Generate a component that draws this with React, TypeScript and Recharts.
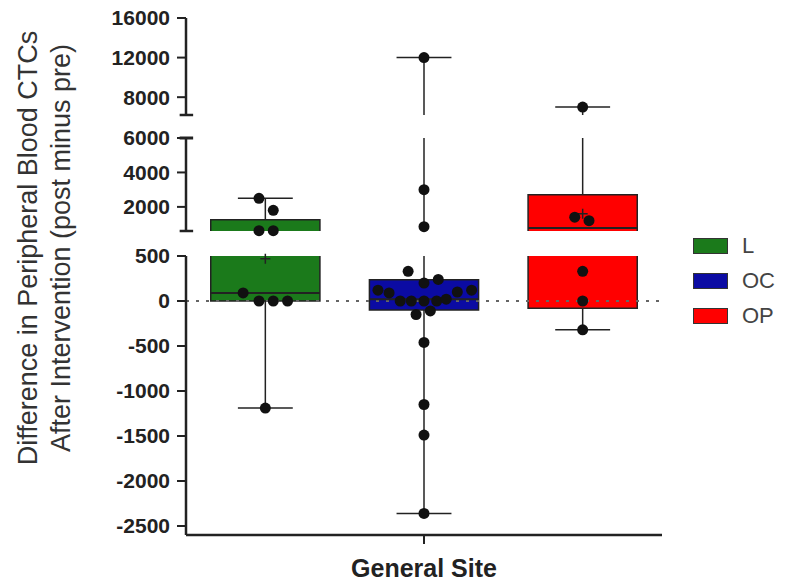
import { ComposedChart, XAxis, YAxis, Scatter, ReferenceArea, ReferenceLine } from "recharts";

const sites = ["L", "OC", "OP"];
const siteColors = ["#1b7a1b", "#0b0ba3", "#ff0000"];
const siteCenters = [0.5, 1.5, 2.5];

// box + whisker stats
const boxQ1 = [0, -100, -80];
const boxMedian = [90, 20, 780];
const boxQ3 = [1250, 235, 2700];
const whiskerLow = [-1190, -2360, -320];
const whiskerHigh = [2500, 12000, 7000];
const boxMean = [470, 540, 1600];

// individual patients (value + horizontal jitter around the site centre)
const lValues = [2500, 1800, 620, 620, 90, 0, 0, 0, -1190];
const lJitter = [-0.04, 0.05, -0.04, 0.05, -0.14, -0.04, 0.05, 0.14, 0];
const ocValues = [12000, 3000, 850, 330, 200, 240, 120, 90, 100, 120, 0, 0, 0, 0, 20, -150, -110, -460, -1150, -1490, -2360];
const ocJitter = [0, 0, 0, -0.1, 0, 0.09, -0.29, -0.22, 0.21, 0.3, -0.15, -0.08, 0, 0.08, 0.14, -0.05, 0.04, 0, 0, 0, 0];
const opValues = [7000, 1400, 1200, 330, 0, -320];
const opJitter = [0, -0.05, 0.04, 0, 0, 0];

// broken y axis: top, middle, bottom pieces
const segmentDomains = [[6200, 16000], [600, 6000], [-2600, 500]];
const segmentTicks = [
  [8000, 12000, 16000],
  [2000, 4000, 6000],
  [-2500, -2000, -1500, -1000, -500, 0, 500],
];

const xLabel = "General Site";
const yTitle = ["Difference in Peripheral Blood CTCs", "After Intervention (post minus pre)"];

const FONT = "'Liberation Sans', Arial, sans-serif";
const BOX_HALF = 0.344;
const CAP_HALF = 0.173;

const allValues = [lValues, ocValues, opValues];
const allJitter = [lJitter, ocJitter, opJitter];
const points = sites.flatMap((_, i) =>
  allValues[i].map((v, j) => ({ x: siteCenters[i] + allJitter[i][j], y: v }))
);
const means = sites.map((_, i) => ({ x: siteCenters[i], y: boxMean[i] }));

const dot = (p: any) => <circle cx={p.cx} cy={p.cy} r={5.5} fill="#111" />;
const plus = (p: any) => (
  <path d={`M${p.cx - 5},${p.cy}h10M${p.cx},${p.cy - 5}v10`} stroke="#222" strokeWidth={1.5} fill="none" />
);

interface SegProps {
  idx: number;
  top: number;
  height: number;
  mTop: number;
  mBottom: number;
  breakTop?: boolean;
  breakBottom?: boolean;
}

function Segment({ idx, top, height, mTop, mBottom, breakTop, breakBottom }: SegProps) {
  const [lo, hi] = segmentDomains[idx];
  const inRange = (p: { y: number }) => p.y >= lo && p.y <= hi;
  const showX = idx === 2;

  return (
    <div style={{ position: "absolute", left: 0, top }}>
      <ComposedChart width={786} height={height} margin={{ top: mTop, right: 124, bottom: mBottom, left: 106 }}>
        <XAxis
          type="number"
          dataKey="x"
          domain={[0, 3]}
          ticks={[1.5]}
          hide={!showX}
          height={50}
          tickFormatter={() => xLabel}
          tick={{ fontSize: 25, fontWeight: "bold", fill: "#222", fontFamily: FONT }}
          tickSize={9}
          tickMargin={15}
          axisLine={{ stroke: "#222", strokeWidth: 2.5 }}
          tickLine={{ stroke: "#222", strokeWidth: 2 }}
        />
        <YAxis
          type="number"
          dataKey="y"
          domain={[lo, hi]}
          ticks={segmentTicks[idx]}
          interval={0}
          width={80}
          tickSize={9}
          tickMargin={7}
          tick={{ fontSize: 21, fontWeight: "bold", fill: "#222", fontFamily: FONT }}
          axisLine={{ stroke: "#222", strokeWidth: 2.5 }}
          tickLine={{ stroke: "#222", strokeWidth: 2 }}
        />

        {showX && <ReferenceLine y={0} stroke="#666" strokeWidth={2} strokeDasharray="3 7" />}

        {sites.map((s, i) => (
          <ReferenceLine
            key={s + "-up"}
            segment={[{ x: siteCenters[i], y: boxQ3[i] }, { x: siteCenters[i], y: whiskerHigh[i] }]}
            stroke="#222"
            strokeWidth={1.5}
            ifOverflow="hidden"
          />
        ))}
        {sites.map((s, i) => (
          <ReferenceLine
            key={s + "-down"}
            segment={[{ x: siteCenters[i], y: boxQ1[i] }, { x: siteCenters[i], y: whiskerLow[i] }]}
            stroke="#222"
            strokeWidth={1.5}
            ifOverflow="hidden"
          />
        ))}
        {sites.map((s, i) => (
          <ReferenceLine
            key={s + "-capHi"}
            segment={[{ x: siteCenters[i] - CAP_HALF, y: whiskerHigh[i] }, { x: siteCenters[i] + CAP_HALF, y: whiskerHigh[i] }]}
            stroke="#222"
            strokeWidth={1.5}
            ifOverflow="hidden"
          />
        ))}
        {sites.map((s, i) => (
          <ReferenceLine
            key={s + "-capLo"}
            segment={[{ x: siteCenters[i] - CAP_HALF, y: whiskerLow[i] }, { x: siteCenters[i] + CAP_HALF, y: whiskerLow[i] }]}
            stroke="#222"
            strokeWidth={1.5}
            ifOverflow="hidden"
          />
        ))}

        {sites.map((s, i) => (
          <ReferenceArea
            key={s + "-box"}
            x1={siteCenters[i] - BOX_HALF}
            x2={siteCenters[i] + BOX_HALF}
            y1={boxQ1[i]}
            y2={boxQ3[i]}
            fill={siteColors[i]}
            fillOpacity={1}
            stroke="#222"
            strokeWidth={1.5}
            ifOverflow="hidden"
          />
        ))}
        {sites.map((s, i) => (
          <ReferenceLine
            key={s + "-med"}
            segment={[{ x: siteCenters[i] - BOX_HALF, y: boxMedian[i] }, { x: siteCenters[i] + BOX_HALF, y: boxMedian[i] }]}
            stroke="#222"
            strokeWidth={2}
            ifOverflow="hidden"
          />
        ))}

        {breakTop && (
          <ReferenceLine segment={[{ x: -0.04, y: hi }, { x: 0.045, y: hi }]} stroke="#222" strokeWidth={3} ifOverflow="visible" />
        )}
        {breakBottom && (
          <ReferenceLine segment={[{ x: -0.04, y: lo }, { x: 0.045, y: lo }]} stroke="#222" strokeWidth={2.5} ifOverflow="visible" />
        )}

        <Scatter data={means.filter(inRange)} shape={plus} isAnimationActive={false} />
        <Scatter data={points.filter(inRange)} shape={dot} isAnimationActive={false} />
      </ComposedChart>
    </div>
  );
}

export default function App() {
  return (
    <div style={{ position: "absolute", left: 0, top: 0, width: 786, height: 585, background: "#fff", fontFamily: FONT }}>
      <Segment idx={0} top={0} height={125} mTop={18} mBottom={10} breakBottom />
      <Segment idx={1} top={125} height={115} mTop={13} mBottom={9} breakTop breakBottom />
      <Segment idx={2} top={240} height={345} mTop={16} mBottom={0} />

      <div
        style={{
          position: "absolute",
          left: 44.5,
          top: 248,
          transform: "translate(-50%, -50%) rotate(-90deg)",
          whiteSpace: "nowrap",
          textAlign: "center",
          fontSize: 27,
          lineHeight: "33px",
          color: "#333",
        }}
      >
        {yTitle.map((t) => (
          <div key={t}>{t}</div>
        ))}
      </div>

      <div style={{ position: "absolute", left: 693, top: 238 }}>
        {sites.map((s, i) => (
          <div key={s} style={{ display: "flex", alignItems: "center", height: 35 }}>
            <div
              style={{
                width: 35,
                height: 16,
                background: siteColors[i],
                border: "1.5px solid #333",
                boxSizing: "border-box",
                marginTop: -19,
              }}
            />
            <span style={{ marginLeft: 14, fontSize: 22, color: "#444", marginTop: -19 }}>{s}</span>
          </div>
        ))}
      </div>
    </div>
  );
}
